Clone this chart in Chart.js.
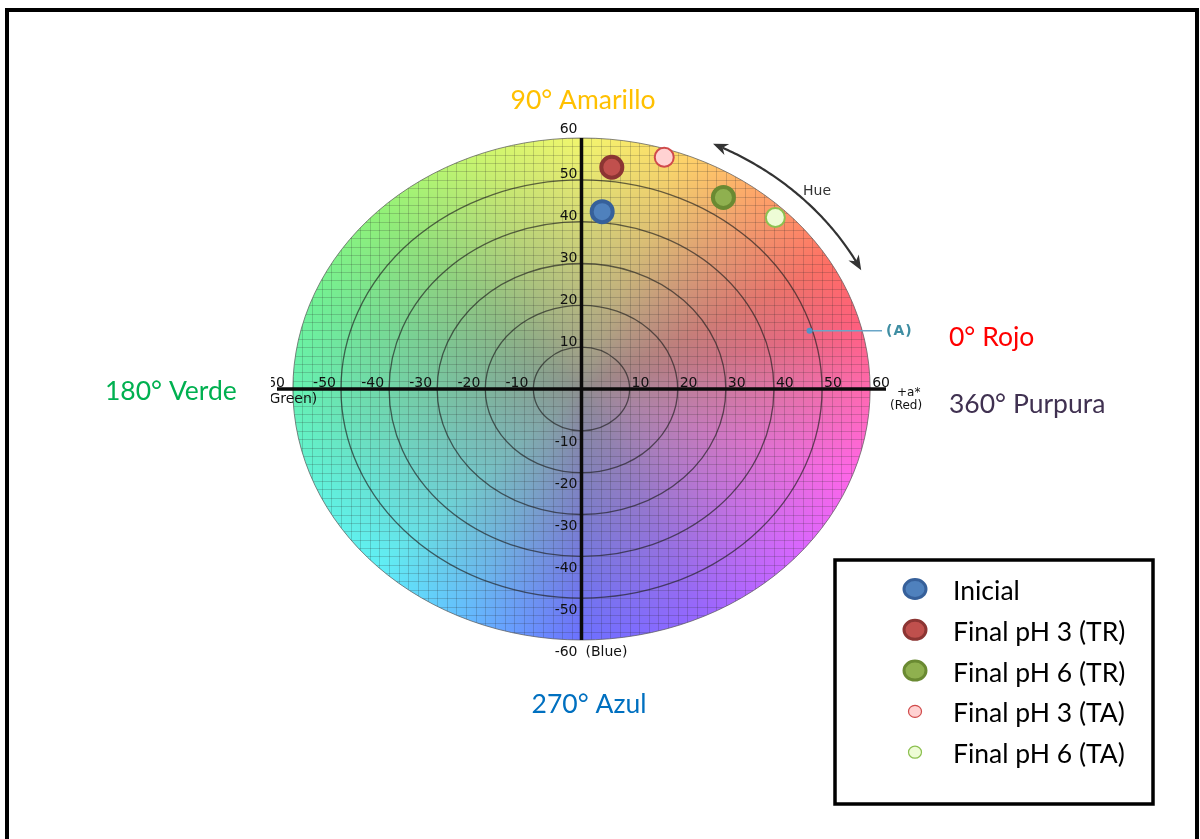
<!DOCTYPE html>
<html>
<head>
<meta charset="utf-8">
<script src="https://cdn.jsdelivr.net/npm/chart.js@4.4.1/dist/chart.umd.min.js"></script>
<style>
  html, body { margin: 0; padding: 0; background: #fff; }
  #wrap { position: relative; width: 1200px; height: 839px; overflow: hidden; }
  #frame { position: absolute; left: 5px; top: 8px; width: 1186px; height: 900px;
           border: 4px solid #000; border-bottom: none; pointer-events: none; }
  canvas { position: absolute; left: 0; top: 0; }
</style>
</head>
<body>
<div id="wrap">
  <canvas id="c" width="1200" height="839"></canvas>
  <div id="frame"></div>
</div>
<script>
// CIELAB a*/b* coordinates of each sample
const SERIES = ['Inicial', 'Final pH 3 (TR)', 'Final pH 6 (TR)', 'Final pH 3 (TA)', 'Final pH 6 (TA)'];
const A_STAR = [4.3, 6.3, 29.5, 17.2, 40.3];
const B_STAR = [42.4, 53.0, 45.8, 55.4, 41.0];

// axis ticks and ring radii of the a*b* plane
const TICKS = [-60, -50, -40, -30, -20, -10, 0, 10, 20, 30, 40, 50, 60];
const RINGS = [10, 20, 30, 40, 50];

// example point (A) and the hue arc
const POINT_A = [47.4, 13.9];
const HUE_ARC = [26, 65.3];   // start / end angle in degrees
const HUE_RADIUS = 64.7;

// hue names around the wheel
const HUE_LABELS = ['90° Amarillo', '0° Rojo', '360° Purpura', '180° Verde', '270° Azul'];

// ---- styles ----
const FILLS   = ['#4f81bd', '#c0504d', '#8fb04f', '#ffd2d2', '#eefcd6'];
const BORDERS = ['#36609a', '#8c3533', '#6a8a32', '#d04a4a', '#8cc050'];
const RADII   = [10.5, 10.5, 10.5, 9.5, 9.5];
const BWIDTHS = [4, 4, 4, 2, 2];
const LEGEND_SIZE = [[22, 19], [22, 19], [22, 19], [13, 12], [13, 12]];

const TEXT_FONT = '26.5px Lato';
const HUE_COLORS = ['#ffc000', '#ff0000', '#403151', '#00b050', '#0070c0'];
const HUE_POS = [[583, 109, 'center'], [949, 346, 'left'], [949, 413, 'left'], [105, 400, 'left'], [589, 713, 'center']];

// full-chroma colour anchors by hue angle
const ANCHORS = [
  [0,   [255, 105, 175]], [15,  [255, 95, 125]], [30,  [255, 110, 100]],
  [50,  [255, 160, 105]], [70,  [255, 215, 105]], [90,  [242, 246, 110]],
  [110, [205, 246, 110]], [135, [145, 242, 120]], [160, [112, 242, 150]],
  [180, [102, 242, 178]], [205, [96, 242, 222]],  [225, [96, 240, 246]],
  [245, [100, 192, 255]], [270, [108, 112, 255]], [295, [152, 102, 255]],
  [320, [218, 102, 255]], [340, [255, 102, 232]], [360, [255, 105, 175]]
];
const GREY = [142, 142, 142];

function hueColor(deg) {
  for (let k = 0; k < ANCHORS.length - 1; k++) {
    const [d0, c0] = ANCHORS[k], [d1, c1] = ANCHORS[k + 1];
    if (deg >= d0 && deg <= d1) {
      const t = (deg - d0) / (d1 - d0);
      return [0, 1, 2].map(i => c0[i] + (c1[i] - c0[i]) * t);
    }
  }
  return ANCHORS[0][1];
}

let wheelImage = null;
function buildWheel(x, y) {
  const cx = x.getPixelForValue(0), cy = y.getPixelForValue(0);
  const rx = x.getPixelForValue(60) - cx, ry = cy - y.getPixelForValue(60);
  const x0 = Math.floor(cx - rx - 3), y0 = Math.floor(cy - ry - 3);
  const w = Math.ceil(2 * rx + 6), h = Math.ceil(2 * ry + 6);
  const off = document.createElement('canvas');
  off.width = w; off.height = h;
  const octx = off.getContext('2d');
  const img = octx.createImageData(w, h);
  for (let j = 0; j < h; j++) {
    const b = y.getValueForPixel(y0 + j + 0.5);
    for (let i = 0; i < w; i++) {
      const a = x.getValueForPixel(x0 + i + 0.5);
      const r = Math.hypot(a, b);
      if (r > 61) continue;
      const alpha = Math.max(0, Math.min(1, (60 - r) * 4.5 + 0.5));
      const deg = (Math.atan2(b, a) * 180 / Math.PI + 360) % 360;
      const hc = hueColor(deg);
      const t = Math.pow(Math.min(r / 60, 1), 0.85);
      const p = (j * w + i) * 4;
      img.data[p]     = GREY[0] + (hc[0] - GREY[0]) * t;
      img.data[p + 1] = GREY[1] + (hc[1] - GREY[1]) * t;
      img.data[p + 2] = GREY[2] + (hc[2] - GREY[2]) * t;
      img.data[p + 3] = alpha * 255;
    }
  }
  octx.putImageData(img, 0, 0);
  return { canvas: off, x0, y0 };
}

function ellipsePath(ctx, cx, cy, rx, ry) {
  ctx.beginPath();
  ctx.ellipse(cx, cy, rx, ry, 0, 0, Math.PI * 2);
}

const labWheel = {
  id: 'labWheel',
  beforeDatasetsDraw(chart) {
    const { ctx } = chart;
    const x = chart.scales.x, y = chart.scales.y;
    const cx = x.getPixelForValue(0), cy = y.getPixelForValue(0);
    const px = v => x.getPixelForValue(v), py = v => y.getPixelForValue(v);
    const rOf = v => [px(v) - cx, cy - py(v)];

    if (!wheelImage) wheelImage = buildWheel(x, y);

    ctx.save();
    ctx.beginPath();
    ctx.rect(271, 0, 927 - 271, chart.height);
    ctx.clip();

    ctx.drawImage(wheelImage.canvas, wheelImage.x0, wheelImage.y0);

    // fine grid inside the wheel
    const [Rx, Ry] = rOf(60);
    ctx.save();
    ellipsePath(ctx, cx, cy, Rx, Ry);
    ctx.clip();
    ctx.strokeStyle = 'rgba(40,40,40,0.2)';
    ctx.lineWidth = 1;
    ctx.beginPath();
    for (let v = -60; v <= 60; v += 2) {
      const gx = Math.round(px(v)) + 0.5, gy = Math.round(py(v)) + 0.5;
      ctx.moveTo(gx, py(60)); ctx.lineTo(gx, py(-60));
      ctx.moveTo(px(-60), gy); ctx.lineTo(px(60), gy);
    }
    ctx.stroke();
    ctx.restore();

    // chroma rings
    ctx.strokeStyle = 'rgba(30,30,30,0.66)';
    ctx.lineWidth = 1.3;
    RINGS.forEach(r => {
      const [ex, ey] = rOf(r);
      ellipsePath(ctx, cx, cy, ex, ey);
      ctx.stroke();
    });
    ctx.strokeStyle = 'rgba(95,95,95,0.75)';
    ctx.lineWidth = 1;
    ellipsePath(ctx, cx, cy, Rx, Ry);
    ctx.stroke();

    // axes
    ctx.strokeStyle = '#0a0a0a';
    ctx.lineWidth = 3.5;
    ctx.beginPath();
    ctx.moveTo(px(x.min), cy); ctx.lineTo(px(x.max), cy);
    ctx.moveTo(cx, py(60)); ctx.lineTo(cx, py(-60));
    ctx.stroke();

    // tick labels
    ctx.fillStyle = '#111';
    ctx.font = '14px "DejaVu Sans"';
    ctx.textBaseline = 'alphabetic';
    TICKS.forEach(v => {
      if (v === 0) return;
      if (v > 0) { ctx.textAlign = 'left'; ctx.fillText(String(v), px(v) + 2, cy - 2.5); }
      else { ctx.textAlign = 'right'; ctx.fillText(String(v), px(v) - (v === -60 ? 8 : 5), cy - 2.5); }
      ctx.textAlign = 'right';
      let by;
      if (v === 60) by = py(v) - 5;
      else if (v > 0) by = py(v) - 1.5;
      else by = py(v) + 15.5;
      ctx.fillText(String(v), cx - 4, by);
    });
    ctx.textAlign = 'left';
    ctx.fillText('(Green)', 264, cy + 14);
    ctx.fillText('(Blue)', cx + 4, py(-60) + 15.5);
    ctx.font = '12px "DejaVu Sans"';
    ctx.fillText('+a*', 897, cy + 7);
    ctx.fillText('(Red)', 890, cy + 20);

    // hue arc with arrowheads
    const arc = [];
    for (let d = HUE_ARC[0]; d <= HUE_ARC[1] + 1e-6; d += 0.5) {
      const t = d * Math.PI / 180;
      arc.push([px(HUE_RADIUS * Math.cos(t)), py(HUE_RADIUS * Math.sin(t))]);
    }
    ctx.strokeStyle = '#333';
    ctx.fillStyle = '#333';
    ctx.lineWidth = 2.2;
    ctx.beginPath();
    arc.slice(4, arc.length - 4).forEach((p, k) => k ? ctx.lineTo(p[0], p[1]) : ctx.moveTo(p[0], p[1]));
    ctx.stroke();
    const head = (tip, from) => {
      const ang = Math.atan2(tip[1] - from[1], tip[0] - from[0]);
      const L = 15, W = 6;
      ctx.beginPath();
      ctx.moveTo(tip[0], tip[1]);
      ctx.lineTo(tip[0] - L * Math.cos(ang) + W * Math.sin(ang), tip[1] - L * Math.sin(ang) - W * Math.cos(ang));
      ctx.lineTo(tip[0] - L * Math.cos(ang) * 0.7, tip[1] - L * Math.sin(ang) * 0.7);
      ctx.lineTo(tip[0] - L * Math.cos(ang) - W * Math.sin(ang), tip[1] - L * Math.sin(ang) + W * Math.cos(ang));
      ctx.closePath();
      ctx.fill();
    };
    head(arc[arc.length - 1], arc[arc.length - 6]);
    head(arc[0], arc[5]);
    ctx.font = '14px "DejaVu Sans"';
    ctx.textAlign = 'left';
    ctx.fillText('Hue', 803, 195);

    // point (A)
    const ax = px(POINT_A[0]), ay = py(POINT_A[1]);
    ctx.strokeStyle = '#6aa6c8';
    ctx.lineWidth = 1.5;
    ctx.beginPath();
    ctx.moveTo(ax + 3, ay); ctx.lineTo(882, ay);
    ctx.stroke();
    ctx.fillStyle = '#4f95c8';
    ctx.beginPath();
    ctx.arc(ax, ay, 3, 0, Math.PI * 2);
    ctx.fill();
    ctx.fillStyle = '#3f8ea3';
    ctx.font = 'bold 14px "DejaVu Sans"';
    ctx.letterSpacing = '1px';
    ctx.textBaseline = 'middle';
    ctx.fillText('(A)', 886, ay + 1);
    ctx.letterSpacing = '0px';
    ctx.restore();
  },
  afterDraw(chart) {
    const { ctx } = chart;
    ctx.save();
    // hue names
    ctx.font = TEXT_FONT;
    ctx.textBaseline = 'alphabetic';
    HUE_LABELS.forEach((t, i) => {
      ctx.fillStyle = HUE_COLORS[i];
      ctx.textAlign = HUE_POS[i][2];
      ctx.fillText(t, HUE_POS[i][0], HUE_POS[i][1]);
    });

    // legend box
    ctx.strokeStyle = '#000';
    ctx.lineWidth = 3.5;
    ctx.strokeRect(835, 560, 318, 244);
    chart.data.datasets.forEach((ds, i) => {
      const cyL = 589 + i * 40.8;
      const [w, h] = LEGEND_SIZE[i];
      ctx.beginPath();
      ctx.ellipse(915, cyL, w / 2, h / 2, 0, 0, Math.PI * 2);
      ctx.fillStyle = ds.backgroundColor;
      ctx.fill();
      ctx.lineWidth = i < 3 ? 3 : 1.2;
      ctx.strokeStyle = ds.borderColor;
      ctx.stroke();
      ctx.fillStyle = '#000';
      ctx.textAlign = 'left';
      ctx.font = TEXT_FONT;
      ctx.fillText(ds.label, 953, cyL + 11);
    });
    ctx.restore();
  }
};

new Chart(document.getElementById('c'), {
  type: 'scatter',
  data: {
    datasets: SERIES.map((name, i) => ({
      label: name,
      data: [{ x: A_STAR[i], y: B_STAR[i] }],
      backgroundColor: FILLS[i],
      borderColor: BORDERS[i],
      borderWidth: BWIDTHS[i],
      pointRadius: RADII[i],
      pointHoverRadius: RADII[i],
      pointStyle: 'circle'
    }))
  },
  options: {
    responsive: false,
    animation: false,
    devicePixelRatio: 1,
    layout: { padding: { left: 277, right: 314, top: 138, bottom: 199 } },
    scales: {
      x: { type: 'linear', min: -63.3, max: 63.3, display: false },
      y: { type: 'linear', min: -60, max: 60, display: false }
    },
    plugins: { legend: { display: false }, tooltip: { enabled: false } }
  },
  plugins: [labWheel]
});
</script>
</body>
</html>
